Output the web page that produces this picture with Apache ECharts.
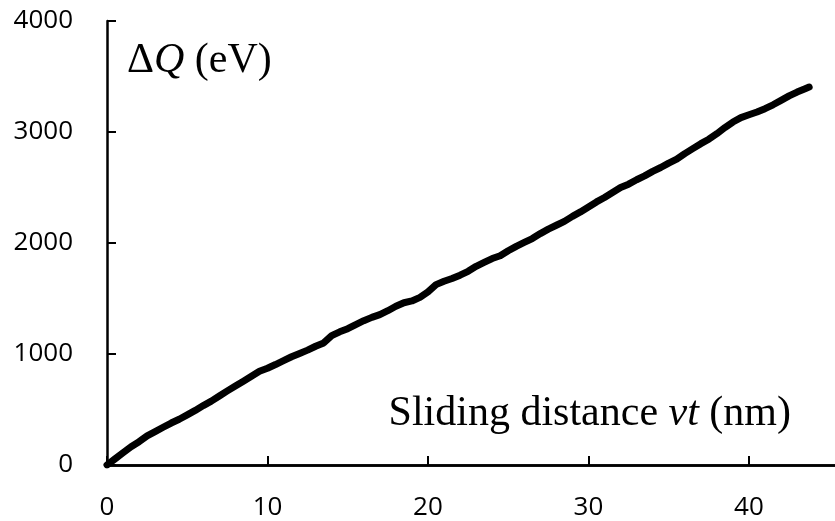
<!DOCTYPE html>
<html>
<head>
<meta charset="utf-8">
<script src="https://cdn.jsdelivr.net/npm/echarts@6/dist/echarts.min.js"></script>
<style>html,body{margin:0;padding:0;background:#fff}#c{width:835px;height:521px}</style>
</head>
<body>
<div id="c"></div>
<script>
const distance = [0,0.5,1,1.5,2,2.5,3,3.5,4,4.5,5,5.5,6,6.5,7,7.5,8,8.5,9,9.5,10,10.5,11,11.5,12,12.5,13,13.5,14,14.5,15,15.5,16,16.5,17,17.5,18,18.5,19,19.5,20,20.5,21,21.5,22,22.5,23,23.5,24,24.5,25,25.5,26,26.5,27,27.5,28,28.5,29,29.5,30,30.5,31,31.5,32,32.5,33,33.5,34,34.5,35,35.5,36,36.5,37,37.5,38,38.5,39,39.5,40,40.5,41,41.5,42,42.5,43,43.5,43.75];
const deltaQ = [0,55,110,165,210,262,300,340,378,412,452,492,535,575,622,668,712,755,800,845,872,905,940,975,1005,1035,1070,1100,1165,1200,1228,1265,1300,1330,1355,1390,1430,1462,1478,1510,1560,1625,1655,1680,1710,1745,1790,1825,1860,1885,1930,1970,2005,2040,2085,2125,2160,2195,2240,2280,2325,2370,2410,2455,2500,2530,2570,2605,2645,2680,2720,2755,2805,2850,2895,2935,2985,3040,3090,3130,3155,3180,3210,3245,3285,3325,3360,3390,3405];
const xTicks = [0,10,20,30,40];
const yTicks = [0,1000,2000,3000,4000];
const yLabel = ['\u0394', 'Q', ' (eV)'];
const xLabel = ['Sliding distance ', 'vt', ' (nm)'];

const chart = echarts.init(document.getElementById('c'), null, {renderer:'canvas'});
const serif = '"Liberation Serif","Times New Roman",serif';
const sans = '"Open Sans",sans-serif';
chart.setOption({
  animation:false,
  backgroundColor:'#fff',
  grid:{left:107, right:0, top:21, bottom:55, containLabel:false},
  xAxis:[{
    type:'value', min:0, max:45.36, interval:10,
    axisLine:{show:true, onZero:false, lineStyle:{color:'#000', width:2.5}},
    axisTick:{show:true, inside:true, length:9, lineStyle:{color:'#000', width:2}},
    splitLine:{show:false},
    axisLabel:{show:true, margin:30, color:'#000', fontSize:26, fontFamily:sans, showMaxLabel:false,
      formatter:v => xTicks.includes(v) ? String(v) : ''}
  },{
    type:'value', position:'top', min:0, max:45.36,
    axisLine:{show:true, lineStyle:{color:'#000', width:2.5}},
    axisTick:{show:false}, axisLabel:{show:false}, splitLine:{show:false}
  }],
  yAxis:{
    type:'value', min:0, max:4000, interval:1000,
    axisLine:{show:true, onZero:false, lineStyle:{color:'#000', width:2.5}},
    axisTick:{show:true, inside:true, length:9, lineStyle:{color:'#000', width:2}},
    splitLine:{show:false},
    axisLabel:{show:true, margin:34, color:'#000', fontSize:26, fontFamily:sans,
      formatter:v => yTicks.includes(v) ? String(v) : ''}
  },
  series:[{
    type:'line', xAxisIndex:0,
    data: distance.map((d,i)=>[d, deltaQ[i]]),
    showSymbol:false, smooth:false,
    lineStyle:{color:'#000', width:7, cap:'round', join:'round'}
  }],
  graphic:[
    {type:'text', left:127, top:40, style:{
      text:'{n|'+yLabel[0]+'}{i|'+yLabel[1]+'}{n|'+yLabel[2]+'}',
      rich:{n:{fontFamily:serif, fontSize:42, fill:'#000'}, i:{fontFamily:serif, fontSize:42, fontStyle:'italic', fill:'#000'}}
    }},
    {type:'text', right:44, top:393, style:{
      text:'{n|'+xLabel[0]+'}{i|'+xLabel[1]+'}{n|'+xLabel[2]+'}',
      rich:{n:{fontFamily:serif, fontSize:42, fill:'#000'}, i:{fontFamily:serif, fontSize:42, fontStyle:'italic', fill:'#000'}}
    }}
  ]
});
</script>
</body>
</html>
